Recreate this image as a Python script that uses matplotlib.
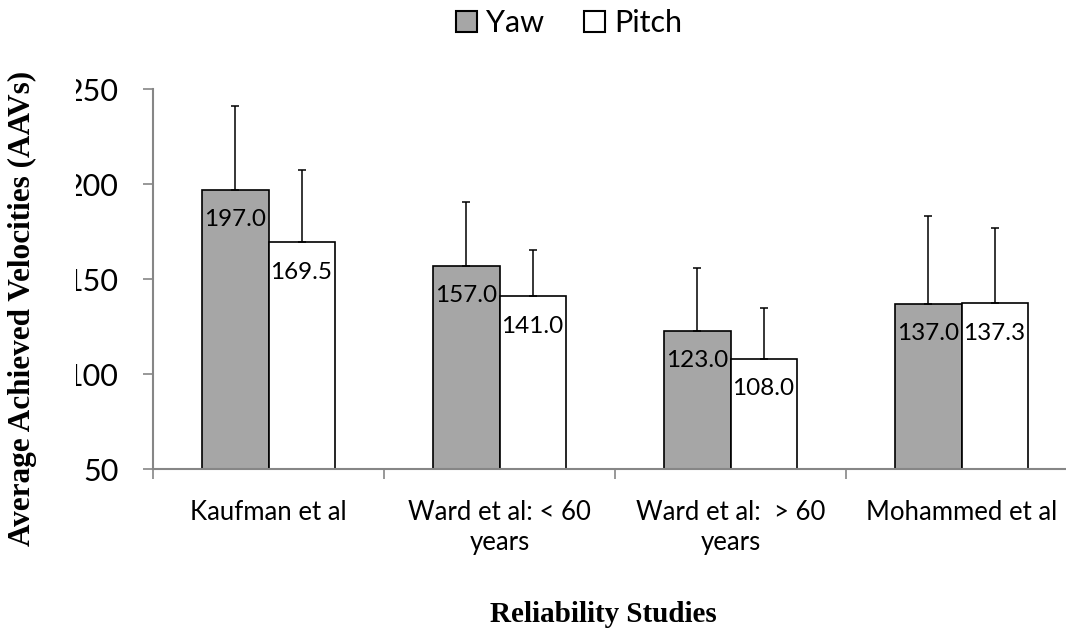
import matplotlib
matplotlib.use("Agg")
import matplotlib.pyplot as plt
from matplotlib.patches import Patch, Rectangle
import numpy as np

categories = ["Kaufman et al", "Ward et al: < 60\nyears", "Ward et al:  > 60\nyears", "Mohammed et al"]
yaw = [197.0, 157.0, 123.0, 137.0]
pitch = [169.5, 141.0, 108.0, 137.3]
yaw_err = [44.0, 33.8, 32.8, 46.5]
pitch_err = [37.9, 24.6, 26.9, 39.5]
yticks = [50, 100, 150, 200, 250]

SANS = ["Lato", "DejaVu Sans"]
SERIF = ["Liberation Serif", "DejaVu Serif"]
GRAY = "#A6A6A6"
AX = "#868686"

W, H = 1066, 634
fig = plt.figure(figsize=(W / 100, H / 100), dpi=100)
ax = fig.add_axes([153 / W, (H - 469.3) / H, 924 / W, 380 / H])

x = np.arange(len(categories))
bw = 0.286
err_kw = dict(ecolor="black", elinewidth=1.1, capsize=2.9, capthick=1.1)
ax.bar(x - bw / 2, np.array(yaw) - 50, bw, bottom=50, color=GRAY, edgecolor="black", linewidth=1.2,
       yerr=[np.zeros(4), yaw_err], error_kw=err_kw, zorder=2)
ax.bar(x + bw / 2, np.array(pitch) - 50, bw, bottom=50, color="white", edgecolor="black", linewidth=1.2,
       yerr=[np.zeros(4), pitch_err], error_kw=err_kw, zorder=2)

for xs, vals in ((x - bw / 2, yaw), (x + bw / 2, pitch)):
    for xi, v in zip(xs, vals):
        ax.annotate(f"{v:.1f}", (xi, v), xytext=(0, -21.5), textcoords="offset points",
                    ha="center", va="center", fontsize=17.5, family=SANS, zorder=3)

ax.set_xlim(-0.5, 3.5)
ax.set_ylim(50, 250)
ax.set_yticks(yticks)
ax.set_yticklabels([str(t) for t in yticks], fontsize=22, family=SANS)
ax.tick_params(axis="y", length=7, width=1.2, color=AX, pad=18)

ax.set_xticks(np.arange(-0.5, 4, 1.0))
ax.set_xticklabels([])
ax.set_xticks(x, minor=True)
ax.set_xticklabels(categories, minor=True, fontsize=18.5, family=SANS, linespacing=1.25)
ax.tick_params(axis="x", which="major", length=7, width=1.2, color=AX)
ax.tick_params(axis="x", which="minor", length=0, pad=22)

for s in ("top", "right"):
    ax.spines[s].set_visible(False)
for s in ("left", "bottom"):
    ax.spines[s].set_color(AX)
    ax.spines[s].set_linewidth(1.5)

# the reference crops the left part of the tick labels
fig.add_artist(Rectangle((0, 0), 76 / W, 1, transform=fig.transFigure, facecolor="white",
                         edgecolor="none", zorder=5))

fig.text(22 / W, 1 - 308 / H, "Average Achieved Velocities (AAVs)", rotation=90, ha="center", va="center",
         fontsize=22.5, fontweight="bold", family=SERIF, zorder=6)
fig.text(603 / W, 1 - 615 / H, "Reliability Studies", ha="center", va="center",
         fontsize=21, fontweight="bold", family=SERIF)

handles = [Patch(facecolor=GRAY, edgecolor="black", linewidth=1.5, label="Yaw"),
           Patch(facecolor="white", edgecolor="black", linewidth=1.5, label="Pitch")]
fig.legend(handles=handles, loc="center", bbox_to_anchor=(569 / W, 1 - 23 / H), ncol=2, frameon=False,
           prop={"family": SANS, "size": 22}, handlelength=0.7, handleheight=0.7, handletextpad=0.3,
           columnspacing=1.3)

fig.savefig("out.png", dpi=100)
